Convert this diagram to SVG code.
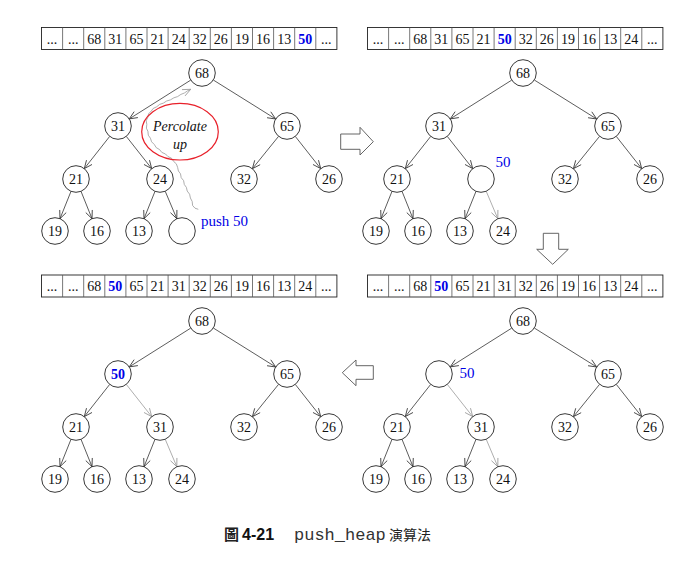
<svg xmlns="http://www.w3.org/2000/svg" width="700" height="568" viewBox="0 0 700 568">
<style>
.cell{fill:#fff;stroke:#222;stroke-width:0.9}
.sep{stroke:#555;stroke-width:0.8}
.at{font-family:"Liberation Serif",serif;font-size:14px;fill:#111;text-anchor:middle}
.hb{font-family:"Liberation Serif",serif;font-size:14px;font-weight:bold;fill:#0000e6;text-anchor:middle}
.nc{fill:#fff;stroke:#222;stroke-width:0.9}
.nt{font-family:"Liberation Serif",serif;font-size:14px;fill:#111;text-anchor:middle}
.e{stroke:#333;stroke-width:0.8;fill:none;marker-end:url(#ah)}
.eg{stroke:#999;stroke-width:0.8;fill:none;marker-end:url(#ahg)}
.blue{font-family:"Liberation Serif",serif;font-size:15px;fill:#0000e6;text-anchor:middle}
.big{fill:#fff;stroke:#555;stroke-width:0.9}
.it{font-family:"Liberation Serif",serif;font-size:14px;font-style:italic;fill:#111;text-anchor:middle}
.mono{font-family:"Liberation Mono","Courier New",monospace;font-size:17px;fill:#333}
.cjk{font-family:"Noto Sans CJK TC","Noto Sans CJK SC",sans-serif;fill:#222}
.fig{font-family:"Liberation Sans",Arial,sans-serif;font-size:16px;font-weight:bold;fill:#111}
</style>
<defs>
<marker id="ah" viewBox="-10 -5 11 10" refX="0" refY="0" markerWidth="11" markerHeight="10" markerUnits="userSpaceOnUse" orient="auto">
<path d="M-8,-3.5 L0,0 L-8,3.5" fill="none" stroke="#333" stroke-width="0.8"/>
</marker>
<marker id="ahg" viewBox="-10 -5 11 10" refX="0" refY="0" markerWidth="11" markerHeight="10" markerUnits="userSpaceOnUse" orient="auto">
<path d="M-8,-3.5 L0,0 L-8,3.5" fill="none" stroke="#999" stroke-width="0.8"/>
</marker>
<g id="arr-frame">
<rect class="cell" x="0" y="0" width="295.4" height="22"/>
<path class="sep" d="M21.1,0V22M42.2,0V22M63.3,0V22M84.4,0V22M105.5,0V22M126.6,0V22M147.7,0V22M168.8,0V22M189.9,0V22M211,0V22M232.1,0V22M253.2,0V22M274.3,0V22"/>
</g>
</defs>
<rect width="700" height="568" fill="#fff"/>

<!-- arrays -->
<g id="array-tl" transform="translate(41.5,27.5)">
<use href="#arr-frame"/>
<text class="at" y="16"><tspan x="10.55">...</tspan><tspan x="31.65">...</tspan><tspan x="52.75">68</tspan><tspan x="73.85">31</tspan><tspan x="94.95">65</tspan><tspan x="116.05">21</tspan><tspan x="137.15">24</tspan><tspan x="158.25">32</tspan><tspan x="179.35">26</tspan><tspan x="200.45">19</tspan><tspan x="221.55">16</tspan><tspan x="242.65">13</tspan><tspan x="284.85">...</tspan></text>
<text class="hb" x="263.75" y="16">50</text>
</g>
<g id="array-tr" transform="translate(367.5,27.5)">
<use href="#arr-frame"/>
<text class="at" y="16"><tspan x="10.55">...</tspan><tspan x="31.65">...</tspan><tspan x="52.75">68</tspan><tspan x="73.85">31</tspan><tspan x="94.95">65</tspan><tspan x="116.05">21</tspan><tspan x="158.25">32</tspan><tspan x="179.35">26</tspan><tspan x="200.45">19</tspan><tspan x="221.55">16</tspan><tspan x="242.65">13</tspan><tspan x="263.75">24</tspan><tspan x="284.85">...</tspan></text>
<text class="hb" x="137.15" y="16">50</text>
</g>
<g id="array-bl" transform="translate(41.5,275)">
<use href="#arr-frame"/>
<text class="at" y="16"><tspan x="10.55">...</tspan><tspan x="31.65">...</tspan><tspan x="52.75">68</tspan><tspan x="94.95">65</tspan><tspan x="116.05">21</tspan><tspan x="137.15">31</tspan><tspan x="158.25">32</tspan><tspan x="179.35">26</tspan><tspan x="200.45">19</tspan><tspan x="221.55">16</tspan><tspan x="242.65">13</tspan><tspan x="263.75">24</tspan><tspan x="284.85">...</tspan></text>
<text class="hb" x="73.85" y="16">50</text>
</g>
<g id="array-br" transform="translate(367.5,275)">
<use href="#arr-frame"/>
<text class="at" y="16"><tspan x="10.55">...</tspan><tspan x="31.65">...</tspan><tspan x="52.75">68</tspan><tspan x="94.95">65</tspan><tspan x="116.05">21</tspan><tspan x="137.15">31</tspan><tspan x="158.25">32</tspan><tspan x="179.35">26</tspan><tspan x="200.45">19</tspan><tspan x="221.55">16</tspan><tspan x="242.65">13</tspan><tspan x="263.75">24</tspan><tspan x="284.85">...</tspan></text>
<text class="hb" x="73.85" y="16">50</text>
</g>

<!-- connectors -->
<g id="connectors">
<g id="edges-tl">
<path class="e" d="M190.75,80.1L129.25,118.9"/>
<path class="e" d="M213.3,80L275.7,119"/>
<path class="e" d="M109.7,136.4L84.3,168.6"/>
<path class="e" d="M126.3,136.4L151.7,168.6"/>
<path class="e" d="M278.6,136.3L252.4,168.7"/>
<path class="e" d="M295.3,136.4L320.7,168.6"/>
<path class="e" d="M71,191.3L60,218.7"/>
<path class="e" d="M81,191.3L92,218.7"/>
<path class="e" d="M155,191.3L144,218.7"/>
<path class="e" d="M165.2,191.2L176.8,218.7"/>
</g>
<g id="edges-tr" transform="translate(321,0)">
<path class="e" d="M190.75,80.1L129.25,118.9"/>
<path class="e" d="M213.3,80L275.7,119"/>
<path class="e" d="M109.7,136.4L84.3,168.6"/>
<path class="e" d="M126.3,136.4L151.7,168.6"/>
<path class="e" d="M278.6,136.3L252.4,168.7"/>
<path class="e" d="M295.3,136.4L320.7,168.6"/>
<path class="e" d="M71,191.3L60,218.7"/>
<path class="e" d="M81,191.3L92,218.7"/>
<path class="e" d="M155,191.3L144,218.7"/>
<path class="eg" d="M165.2,191.2L176.8,218.7"/>
</g>
<g id="edges-bl" transform="translate(0,248)">
<path class="e" d="M190.75,80.1L129.25,118.9"/>
<path class="e" d="M213.3,80L275.7,119"/>
<path class="e" d="M109.7,136.4L84.3,168.6"/>
<path class="eg" d="M126.3,136.4L151.7,168.6"/>
<path class="e" d="M278.6,136.3L252.4,168.7"/>
<path class="e" d="M295.3,136.4L320.7,168.6"/>
<path class="e" d="M71,191.3L60,218.7"/>
<path class="e" d="M81,191.3L92,218.7"/>
<path class="e" d="M155,191.3L144,218.7"/>
<path class="eg" d="M165.2,191.2L176.8,218.7"/>
</g>
<g id="edges-br" transform="translate(321,248)">
<path class="e" d="M190.75,80.1L129.25,118.9"/>
<path class="e" d="M213.3,80L275.7,119"/>
<path class="e" d="M109.7,136.4L84.3,168.6"/>
<path class="eg" d="M126.3,136.4L151.7,168.6"/>
<path class="e" d="M278.6,136.3L252.4,168.7"/>
<path class="e" d="M295.3,136.4L320.7,168.6"/>
<path class="e" d="M71,191.3L60,218.7"/>
<path class="e" d="M81,191.3L92,218.7"/>
<path class="e" d="M155,191.3L144,218.7"/>
<path class="eg" d="M165.2,191.2L176.8,218.7"/>
</g>
<path id="percolate-path" d="M198.3,209.3L195,208.2L192.6,205.5L192.2,201.5L190.4,198L189.6,194.2L187.2,191L186.4,187.4L184.3,184.5L183.6,180.6L181.2,177.7L180.5,173.8L178.4,171L177.6,167.3L176.3,163.8L173.8,161.6L171.5,158.2L168,156.6L165.5,154L161.8,152.4L159.6,149.6L156.2,147.6L154.4,144.6L151.6,141.8L150.4,138.2L148.3,135.2L147.9,131.3L146.4,128.2L146.8,124.4L146.2,120.7L147.9,117.2L148.6,113.8L151.3,111L153.1,108.5L156.8,106.7L159.6,104.4L163.4,103.1L166.6,101L170.4,99.9L173.9,97.8L177.6,96.6L180.9,94.4L184.4,93L187.6,90.8L190.7,89.3" fill="none" stroke="#999" stroke-width="0.8" marker-end="url(#ahg)"/>
</g>

<!-- trees -->
<g id="tree-tl">
<g id="tl-68"><circle class="nc" cx="202" cy="73" r="13.3"/><text class="nt" x="202" y="78">68</text></g>
<g id="tl-31"><circle class="nc" cx="118" cy="126" r="13.3"/><text class="nt" x="118" y="131">31</text></g>
<g id="tl-65"><circle class="nc" cx="287" cy="126" r="13.3"/><text class="nt" x="287" y="131">65</text></g>
<g id="tl-21"><circle class="nc" cx="76" cy="179" r="13.3"/><text class="nt" x="76" y="184">21</text></g>
<g id="tl-24"><circle class="nc" cx="160" cy="179" r="13.3"/><text class="nt" x="160" y="184">24</text></g>
<g id="tl-32"><circle class="nc" cx="244" cy="179" r="13.3"/><text class="nt" x="244" y="184">32</text></g>
<g id="tl-26"><circle class="nc" cx="329" cy="179" r="13.3"/><text class="nt" x="329" y="184">26</text></g>
<g id="tl-19"><circle class="nc" cx="55" cy="231" r="13.3"/><text class="nt" x="55" y="236">19</text></g>
<g id="tl-16"><circle class="nc" cx="97" cy="231" r="13.3"/><text class="nt" x="97" y="236">16</text></g>
<g id="tl-13"><circle class="nc" cx="139" cy="231" r="13.3"/><text class="nt" x="139" y="236">13</text></g>
<g id="tl-new"><circle class="nc" cx="182" cy="231" r="13.3"/></g>
<text class="blue" x="201" y="226" style="text-anchor:start">push 50</text>
<g id="percolate-note">
<ellipse cx="180" cy="131.7" rx="38.3" ry="28.3" fill="none" stroke="#e8202a" stroke-width="1.2"/>
<text class="it" x="180" y="130.5">Percolate</text>
<text class="it" x="180" y="149">up</text>
</g>
</g>

<g id="tree-tr" transform="translate(321,0)">
<g id="tr-68"><circle class="nc" cx="202" cy="73" r="13.3"/><text class="nt" x="202" y="78">68</text></g>
<g id="tr-31"><circle class="nc" cx="118" cy="126" r="13.3"/><text class="nt" x="118" y="131">31</text></g>
<g id="tr-65"><circle class="nc" cx="287" cy="126" r="13.3"/><text class="nt" x="287" y="131">65</text></g>
<g id="tr-21"><circle class="nc" cx="76" cy="179" r="13.3"/><text class="nt" x="76" y="184">21</text></g>
<g id="tr-hole"><circle class="nc" cx="160" cy="179" r="13.3"/></g>
<g id="tr-32"><circle class="nc" cx="244" cy="179" r="13.3"/><text class="nt" x="244" y="184">32</text></g>
<g id="tr-26"><circle class="nc" cx="329" cy="179" r="13.3"/><text class="nt" x="329" y="184">26</text></g>
<g id="tr-19"><circle class="nc" cx="55" cy="231" r="13.3"/><text class="nt" x="55" y="236">19</text></g>
<g id="tr-16"><circle class="nc" cx="97" cy="231" r="13.3"/><text class="nt" x="97" y="236">16</text></g>
<g id="tr-13"><circle class="nc" cx="139" cy="231" r="13.3"/><text class="nt" x="139" y="236">13</text></g>
<g id="tr-24"><circle class="nc" cx="182" cy="231" r="13.3"/><text class="nt" x="182" y="236">24</text></g>
<text class="blue" x="182" y="167">50</text>
</g>

<g id="tree-bl" transform="translate(0,248)">
<g id="bl-68"><circle class="nc" cx="202" cy="73" r="13.3"/><text class="nt" x="202" y="78">68</text></g>
<g id="bl-50"><circle class="nc" cx="118" cy="126" r="13.3"/><text class="hb" x="118" y="131">50</text></g>
<g id="bl-65"><circle class="nc" cx="287" cy="126" r="13.3"/><text class="nt" x="287" y="131">65</text></g>
<g id="bl-21"><circle class="nc" cx="76" cy="179" r="13.3"/><text class="nt" x="76" y="184">21</text></g>
<g id="bl-31"><circle class="nc" cx="160" cy="179" r="13.3"/><text class="nt" x="160" y="184">31</text></g>
<g id="bl-32"><circle class="nc" cx="244" cy="179" r="13.3"/><text class="nt" x="244" y="184">32</text></g>
<g id="bl-26"><circle class="nc" cx="329" cy="179" r="13.3"/><text class="nt" x="329" y="184">26</text></g>
<g id="bl-19"><circle class="nc" cx="55" cy="231" r="13.3"/><text class="nt" x="55" y="236">19</text></g>
<g id="bl-16"><circle class="nc" cx="97" cy="231" r="13.3"/><text class="nt" x="97" y="236">16</text></g>
<g id="bl-13"><circle class="nc" cx="139" cy="231" r="13.3"/><text class="nt" x="139" y="236">13</text></g>
<g id="bl-24"><circle class="nc" cx="182" cy="231" r="13.3"/><text class="nt" x="182" y="236">24</text></g>
</g>

<g id="tree-br" transform="translate(321,248)">
<g id="br-68"><circle class="nc" cx="202" cy="73" r="13.3"/><text class="nt" x="202" y="78">68</text></g>
<g id="br-hole"><circle class="nc" cx="118" cy="126" r="13.3"/></g>
<g id="br-65"><circle class="nc" cx="287" cy="126" r="13.3"/><text class="nt" x="287" y="131">65</text></g>
<g id="br-21"><circle class="nc" cx="76" cy="179" r="13.3"/><text class="nt" x="76" y="184">21</text></g>
<g id="br-31"><circle class="nc" cx="160" cy="179" r="13.3"/><text class="nt" x="160" y="184">31</text></g>
<g id="br-32"><circle class="nc" cx="244" cy="179" r="13.3"/><text class="nt" x="244" y="184">32</text></g>
<g id="br-26"><circle class="nc" cx="329" cy="179" r="13.3"/><text class="nt" x="329" y="184">26</text></g>
<g id="br-19"><circle class="nc" cx="55" cy="231" r="13.3"/><text class="nt" x="55" y="236">19</text></g>
<g id="br-16"><circle class="nc" cx="97" cy="231" r="13.3"/><text class="nt" x="97" y="236">16</text></g>
<g id="br-13"><circle class="nc" cx="139" cy="231" r="13.3"/><text class="nt" x="139" y="236">13</text></g>
<g id="br-24"><circle class="nc" cx="182" cy="231" r="13.3"/><text class="nt" x="182" y="236">24</text></g>
<text class="blue" x="146" y="130">50</text>
</g>

<!-- step arrows -->
<g id="step-arrows">
<polygon class="big" points="340.7,134 360,134 360,127.3 373.3,141.7 360,155 360,149.3 340.7,149.3"/>
<polygon class="big" points="543.3,233.3 558.7,233.3 558.7,249.3 568.3,249.3 552.7,264.3 536.7,249.3 543.3,249.3"/>
<polygon class="big" points="373.3,365.7 356,365.7 356,360 342.3,372.7 356,385.7 356,379.3 373.3,379.3"/>
</g>

<!-- caption -->
<g id="caption">
<text class="cjk" x="224" y="540" font-size="15" font-weight="bold">圖</text>
<text class="fig" x="242" y="540">4-21</text>
<text class="mono" x="294" y="540">push_heap</text>
<text class="cjk" x="389" y="540" font-size="14">演算法</text>
</g>
</svg>
